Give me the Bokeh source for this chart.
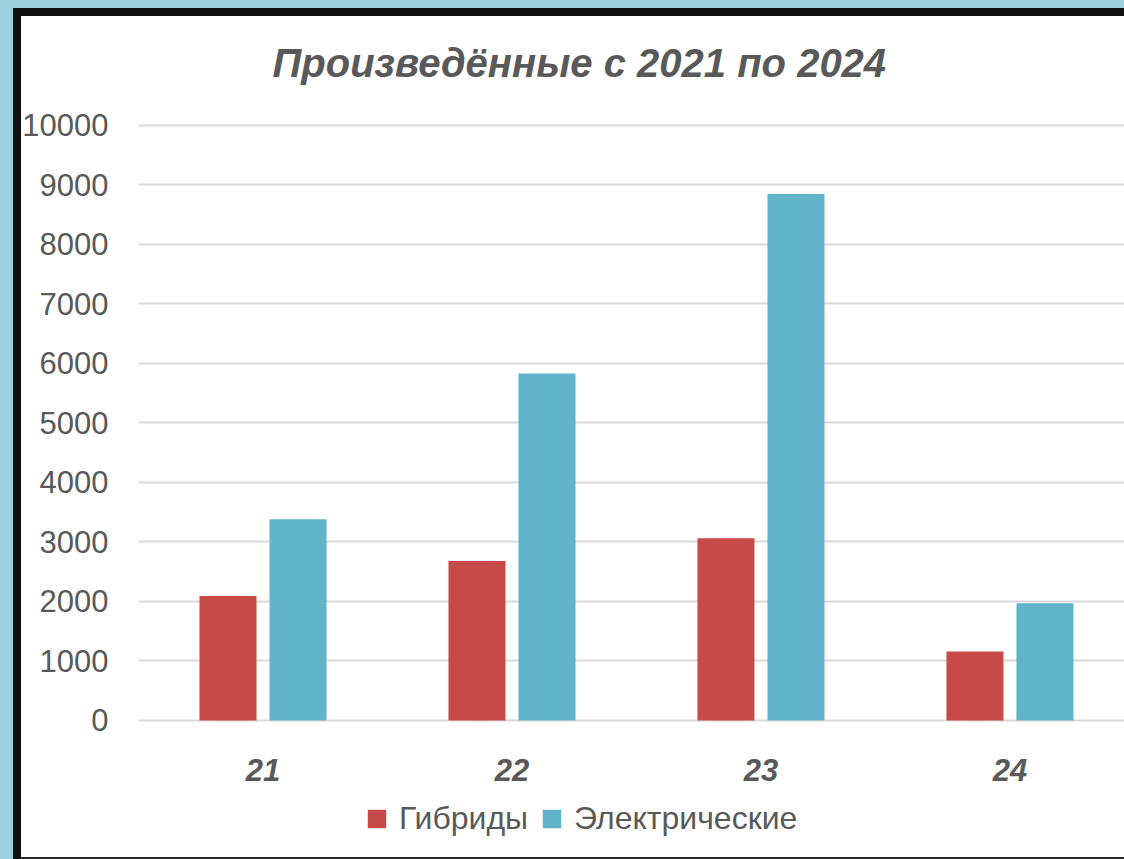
from bokeh.plotting import figure
from bokeh.layouts import column
from bokeh.models import (ColumnDataSource, Range1d, FixedTicker, Legend,
                          LegendItem, GlobalInlineStyleSheet, Title)
from bokeh.transform import dodge
from bokeh.embed import file_html
from bokeh.resources import INLINE

# ---- data ----
years = ["21", "22", "23", "24"]
hybrids = [2090, 2680, 3060, 1160]
electric = [3380, 5830, 8850, 1970]
y_ticks = [0, 1000, 2000, 3000, 4000, 5000, 6000, 7000, 8000, 9000, 10000]
series_names = ["Гибриды", "Электрические"]
title_text = "Произведённые с 2021 по 2024"

# ---- styles ----
RED = "#C54A48"
BLUE = "#61B3CC"
TXT = "#595959"
GRID = "#D9D9D9"
FONT = "Liberation Sans"

xpos = list(range(len(years)))
src = ColumnDataSource(dict(x=xpos, h=hybrids, e=electric))

p = figure(width=1124, height=795, output_backend="svg", toolbar_location=None,
           x_range=Range1d(-0.5, 3.46), y_range=Range1d(-35, 10050),
           min_border_left=138, min_border_right=0, min_border_top=122,
           min_border_bottom=73,
           border_fill_color=None, background_fill_color=None,
           outline_line_color=None)

css = """
html { background:
  linear-gradient(#111111,#111111) 13px 8px / 1111px 8px no-repeat,
  linear-gradient(#111111,#111111) 13px 8px / 8px 851px no-repeat,
  linear-gradient(#2a2a2a,#2a2a2a) 21px 857px / 1103px 2px no-repeat,
  linear-gradient(#9dd0de,#9dd0de) 0 0 / 3000px 8px no-repeat,
  linear-gradient(#9dd0de,#9dd0de) 0 0 / 13px 3000px no-repeat,
  #ffffff; }
body { background: transparent; }
"""
p.stylesheets = [GlobalInlineStyleSheet(css=css)]

# title
p.title = Title(text=title_text, align="left", offset=134, standoff=76,
                text_font=FONT, text_font_size="40px",
                text_font_style="bold italic", text_color=TXT)

p.vbar(x=dodge("x", -0.1406), top="h", width=0.229, source=src,
       fill_color=RED, line_color=None)
p.vbar(x=dodge("x", 0.1406), top="e", width=0.229, source=src,
       fill_color=BLUE, line_color=None)

# y axis
p.yaxis.ticker = FixedTicker(ticks=y_ticks)
p.yaxis.axis_line_color = None
p.yaxis.major_tick_line_color = None
p.yaxis.minor_tick_line_color = None
p.yaxis.major_label_text_font = FONT
p.yaxis.major_label_text_font_size = "31px"
p.yaxis.major_label_text_color = TXT
p.yaxis.major_label_standoff = 24

# x axis
p.xaxis.ticker = FixedTicker(ticks=xpos)
p.xaxis.major_label_overrides = {i: y for i, y in zip(xpos, years)}
p.xaxis.axis_line_color = None
p.xaxis.major_tick_line_color = None
p.xaxis.minor_tick_line_color = None
p.xaxis.major_label_text_font = FONT
p.xaxis.major_label_text_font_size = "31px"
p.xaxis.major_label_text_font_style = "bold italic"
p.xaxis.major_label_text_color = TXT
p.xaxis.major_label_standoff = 30

# grid
p.xgrid.visible = False
p.ygrid.ticker = FixedTicker(ticks=y_ticks)
p.ygrid.grid_line_color = GRID
p.ygrid.grid_line_width = 2

# ---- legend strip (own figure so that nothing is clipped) ----
p2 = figure(width=1124, height=64, output_backend="svg", toolbar_location=None,
            x_range=Range1d(0, 1), y_range=Range1d(0, 1),
            x_axis_type=None, y_axis_type=None,
            min_border=0, border_fill_color=None, background_fill_color=None,
            outline_line_color=None)
# zero-height proxies that only carry the legend colours
lg_h = p2.vbar(x=[0], top=[0], width=0, fill_color=RED, line_color=None)
lg_e = p2.vbar(x=[0], top=[0], width=0, fill_color=BLUE, line_color=None)

legend = Legend(items=[LegendItem(label=series_names[0], renderers=[lg_h]),
                       LegendItem(label=series_names[1], renderers=[lg_e])],
                orientation="horizontal", location=(227, 22),
                glyph_width=23, glyph_height=23, label_standoff=11,
                spacing=12, padding=0, margin=0,
                border_line_color=None, background_fill_alpha=0,
                label_text_font=FONT, label_text_font_size="32px",
                label_text_color=TXT)
p2.add_layout(legend)

layout = column(p, p2, spacing=0)
open("out.html", "w").write(file_html(layout, INLINE))
